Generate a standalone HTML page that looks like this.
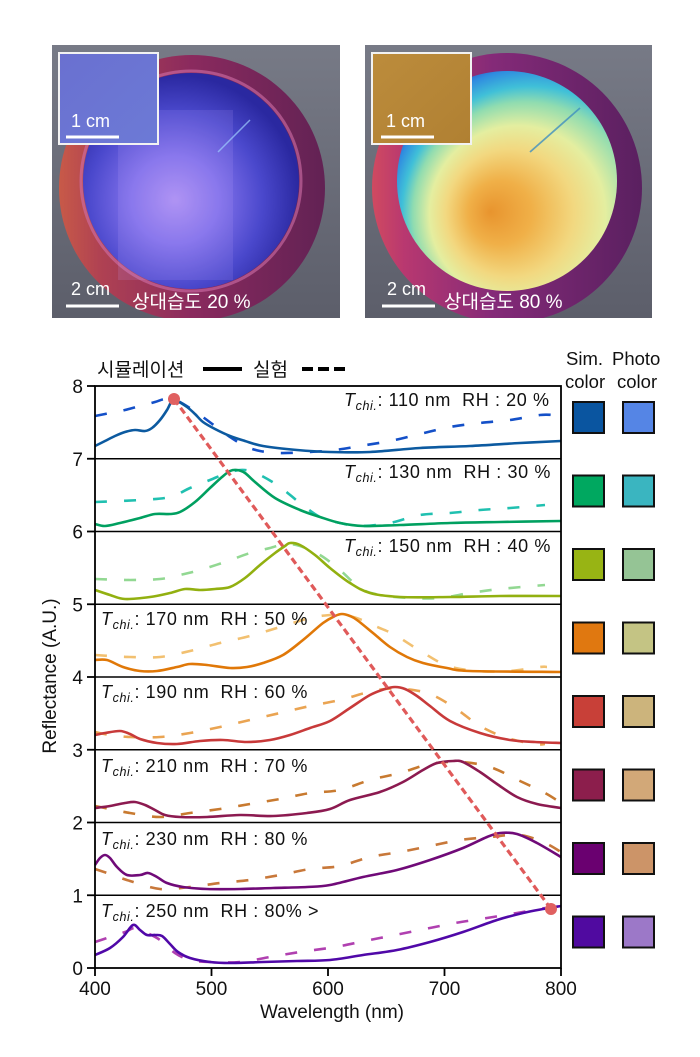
<!DOCTYPE html>
<html>
<head>
<meta charset="utf-8">
<style>
  html,body{margin:0;padding:0;background:#fff;}
  svg{display:block;}
</style>
</head>
<body>
<svg id="fig" width="700" height="1057" viewBox="0 0 700 1057" xmlns="http://www.w3.org/2000/svg">
  <defs>
    <clipPath id="c1"><rect x="52" y="45" width="288" height="273"/></clipPath>
    <clipPath id="c2"><rect x="365" y="45" width="287" height="273"/></clipPath>
    <linearGradient id="bg1" x1="0" y1="0" x2="0" y2="1">
      <stop offset="0" stop-color="#777a86"/>
      <stop offset="1" stop-color="#5c5e6a"/>
    </linearGradient>
    <linearGradient id="rim1" x1="0" y1="0" x2="1" y2="0">
      <stop offset="0" stop-color="#c85a48"/>
      <stop offset="0.15" stop-color="#b04252"/>
      <stop offset="0.5" stop-color="#8a2a5e"/>
      <stop offset="1" stop-color="#622254"/>
    </linearGradient>
    <radialGradient id="in1" cx="175" cy="200" r="125" gradientUnits="userSpaceOnUse">
      <stop offset="0" stop-color="#ac90f2"/>
      <stop offset="0.35" stop-color="#8070ea"/>
      <stop offset="0.7" stop-color="#4a48cc"/>
      <stop offset="1" stop-color="#2a28a0"/>
    </radialGradient>
    <linearGradient id="rim2" x1="0" y1="0" x2="1" y2="0">
      <stop offset="0" stop-color="#d04a60"/>
      <stop offset="0.12" stop-color="#b83870"/>
      <stop offset="0.45" stop-color="#842a78"/>
      <stop offset="1" stop-color="#5a2060"/>
    </linearGradient>
    <radialGradient id="in2" cx="540" cy="215" r="160" fx="490" fy="212" gradientUnits="userSpaceOnUse">
      <stop offset="0" stop-color="#e8942e"/>
      <stop offset="0.2" stop-color="#f0b048"/>
      <stop offset="0.4" stop-color="#f2d880"/>
      <stop offset="0.55" stop-color="#e4eea0"/>
      <stop offset="0.7" stop-color="#90dcb0"/>
      <stop offset="0.8" stop-color="#40c0d8"/>
      <stop offset="0.92" stop-color="#2f8ce0"/>
      <stop offset="1" stop-color="#3058c8"/>
    </radialGradient>
    <linearGradient id="ins1" x1="0" y1="0" x2="1" y2="1">
      <stop offset="0" stop-color="#6a70d0"/>
      <stop offset="1" stop-color="#6c7ad6"/>
    </linearGradient>
    <linearGradient id="ins2" x1="0" y1="0" x2="1" y2="1">
      <stop offset="0" stop-color="#bc8c3c"/>
      <stop offset="1" stop-color="#b08032"/>
    </linearGradient>
  </defs>

  <!-- PHOTO 1 -->
  <g clip-path="url(#c1)">
    <rect x="52" y="45" width="288" height="273" fill="url(#bg1)"/>
    <circle cx="192" cy="188" r="133" fill="url(#rim1)"/>
    <circle cx="191" cy="181" r="110" fill="none" stroke="#d070a8" stroke-width="3" opacity="0.6"/>
    <circle cx="191" cy="181" r="108" fill="url(#in1)"/>
    <rect x="118" y="110" width="115" height="170" fill="#c8a8ff" opacity="0.14"/>
    <line x1="218" y1="152" x2="250" y2="120" stroke="#a0d0ff" stroke-width="1.5" opacity="0.7"/>
    <rect x="59" y="53" width="99" height="91" fill="url(#ins1)" stroke="#f2f2f2" stroke-width="2"/>
  </g>
  <g fill="#fff" font-family="'Liberation Sans','Noto Sans CJK KR',sans-serif">
    <text x="71" y="127" font-size="18">1 cm</text>
    <rect x="66" y="135.5" width="53" height="3"/>
    <text x="71" y="295" font-size="18">2 cm</text>
    <rect x="66" y="304.5" width="53" height="3"/>
    <text x="132" y="308" font-size="19">상대습도 20 %</text>
  </g>

  <!-- PHOTO 2 -->
  <g clip-path="url(#c2)">
    <rect x="365" y="45" width="287" height="273" fill="url(#bg1)"/>
    <circle cx="507" cy="188" r="135" fill="url(#rim2)"/>
    <circle cx="507" cy="181" r="110" fill="url(#in2)"/>
    <line x1="530" y1="152" x2="580" y2="108" stroke="#4090c0" stroke-width="1.8" opacity="0.8"/>
    <rect x="372" y="53" width="99" height="91" fill="url(#ins2)" stroke="#f2f2f2" stroke-width="2"/>
  </g>
  <g fill="#fff" font-family="'Liberation Sans','Noto Sans CJK KR',sans-serif">
    <text x="386" y="127" font-size="18">1 cm</text>
    <rect x="381" y="135.5" width="53" height="3"/>
    <text x="387" y="295" font-size="18">2 cm</text>
    <rect x="382" y="304.5" width="53" height="3"/>
    <text x="444" y="308" font-size="19">상대습도 80 %</text>
  </g>

  <!-- LEGEND -->
  <g font-family="'Liberation Sans','Noto Sans CJK KR',sans-serif" font-size="19" fill="#111">
    <text x="97" y="376">시뮬레이션</text>
    <text x="253" y="376">실험</text>
  </g>
  <line x1="203" y1="369" x2="242" y2="369" stroke="#000" stroke-width="4"/>
  <line x1="302" y1="369" x2="350" y2="369" stroke="#000" stroke-width="4" stroke-dasharray="11 5"/>

  <!-- DATA CURVES -->
  <g fill="none" stroke-width="2.6" stroke-linejoin="round" stroke-linecap="butt">
    <!-- panel 1 -->
    <polyline class="s" stroke="#1450c8" stroke-dasharray="12 17" points="95,416 110,413 125,410 140,406 155,402 165,399 175,400 185,405 200,415 215,426 230,437 245,446 260,451 280,453 310,452 335,450 360,446 390,441 420,434 450,427 480,423 510,420 540,415 553,415"/>
    <polyline class="s" stroke="#0c5aa0" points="95,446 105,441 115,436 125,432 135,430 145,431 152,428 160,420 167,410 172,401 177,401 187,407 195,414 203,422 215,429 230,436 245,441 263,446 297,450 330,452 370,452 420,448 470,446 520,443 561,441"/>
    <!-- panel 2 -->
    <polyline class="s" stroke="#20c0b0" stroke-dasharray="12 17" points="95,502 140,500 170,497 190,488 210,480 230,472 245,470 260,475 280,487 300,503 320,517 340,523 360,526 390,523 420,515 450,513 480,510 510,508 545,505"/>
    <polyline class="s" stroke="#00a060" points="95,524 105,526 120,523 140,518 155,514 170,514 180,512 195,502 210,488 222,477 230,471 237,470 245,473 255,482 275,498 300,510 320,517 340,523 363,526 400,525 450,523 500,522 561,521"/>
    <!-- panel 3 -->
    <polyline class="s" stroke="#92d892" stroke-dasharray="12 17" points="95,579 130,580 160,579 180,575 200,570 225,562 250,553 270,548 285,544 300,546 320,555 340,570 360,588 380,595 410,598 440,598 470,593 500,589 545,585"/>
    <polyline class="s" stroke="#92b010" points="95,590 110,595 125,599 150,597 170,593 185,589 200,590 215,589 230,587 245,578 260,565 275,553 285,546 290,543 300,545 315,555 330,568 350,583 370,593 400,597 450,597 500,596 561,596"/>
    <!-- panel 4 -->
    <polyline class="s" stroke="#f2c070" stroke-dasharray="12 17" points="95,655 110,656 130,657 160,657 190,651 220,643 250,636 280,627 310,618 330,615 345,615 362,620 375,626 395,635 422,652 448,666 478,671 510,671 540,667 547,667"/>
    <polyline class="s" stroke="#e07808" points="95,660 107,660 123,667 140,671 157,671 177,667 190,664 207,665 230,668 247,667 263,663 283,655 303,640 323,623 335,616 342,614 350,616 357,620 373,633 390,647 407,657 423,663 447,668 470,671 561,672"/>
    <!-- panel 5 -->
    <polyline class="s" stroke="#eaa452" stroke-dasharray="12 17" points="95,732 110,735 130,737 160,737 190,733 220,727 250,720 280,713 310,706 340,700 365,693 385,689 405,689 430,694 455,708 480,726 507,738 535,744 545,744"/>
    <polyline class="s" stroke="#c83a3a" points="95,735 105,733 120,731 130,734 140,739 157,743 177,744 200,741 223,740 247,742 270,740 290,735 310,728 330,721 350,708 370,695 385,689 395,687 405,689 417,696 430,706 450,721 480,733 510,740 535,742 561,743"/>
    <!-- panel 6 -->
    <polyline class="s" stroke="#c87a30" stroke-dasharray="12 17" points="95,806 110,809 130,813 160,817 190,813 220,809 250,804 280,799 310,793 340,790 370,780 400,773 430,764 460,762 490,767 520,781 545,793 561,803"/>
    <polyline class="s" stroke="#8c1a50" points="95,808 110,806 125,803 135,802 145,805 155,810 165,815 180,817 207,817 240,815 273,816 307,813 330,809 350,800 380,792 403,782 423,770 437,763 453,761 463,762 480,772 497,784 517,797 537,804 561,808"/>
    <!-- panel 7 -->
    <polyline class="s" stroke="#c8783a" stroke-dasharray="12 17" points="95,869 110,874 130,881 160,889 190,887 220,883 250,880 280,875 310,869 340,866 370,857 400,852 430,846 460,840 490,837 520,835 545,843 561,852"/>
    <polyline class="s" stroke="#700a78" points="95,865 100,858 105,855 110,858 117,867 127,875 140,875 148,873 157,877 167,883 183,887 207,889 240,889 273,888 307,887 330,885 363,877 397,870 430,860 463,848 487,837 500,833 517,834 537,843 561,857"/>
    <!-- panel 8 -->
    <polyline class="s" stroke="#b040b0" stroke-dasharray="12 17" points="95,942 110,937 125,932 135,928 145,932 160,940 175,953 190,960 210,962 240,962 270,957 300,952 335,947 365,941 395,935 425,929 455,923 487,918 517,913 545,908"/>
    <polyline class="s" stroke="#5008a8" points="95,955 110,948 123,937 133,925 140,930 147,935 155,935 162,936 170,944 178,952 190,958 210,962 230,963 263,962 297,961 330,960 363,955 397,950 430,942 463,932 497,920 523,913 543,909 561,906"/>
  </g>

  <!-- FRAME / PANEL DIVIDERS -->
  <g stroke="#000" fill="none">
    <rect x="95" y="386" width="466" height="582" stroke-width="1.8"/>
    <line x1="95" y1="458.75" x2="561" y2="458.75" stroke-width="1.5"/>
    <line x1="95" y1="531.5" x2="561" y2="531.5" stroke-width="1.5"/>
    <line x1="95" y1="604.25" x2="561" y2="604.25" stroke-width="1.5"/>
    <line x1="95" y1="677" x2="561" y2="677" stroke-width="1.5"/>
    <line x1="95" y1="749.75" x2="561" y2="749.75" stroke-width="1.5"/>
    <line x1="95" y1="822.5" x2="561" y2="822.5" stroke-width="1.5"/>
    <line x1="95" y1="895.25" x2="561" y2="895.25" stroke-width="1.5"/>
    <g stroke-width="1.8">
      <line x1="87" y1="386" x2="95" y2="386"/>
      <line x1="87" y1="458.75" x2="95" y2="458.75"/>
      <line x1="87" y1="531.5" x2="95" y2="531.5"/>
      <line x1="87" y1="604.25" x2="95" y2="604.25"/>
      <line x1="87" y1="677" x2="95" y2="677"/>
      <line x1="87" y1="749.75" x2="95" y2="749.75"/>
      <line x1="87" y1="822.5" x2="95" y2="822.5"/>
      <line x1="87" y1="895.25" x2="95" y2="895.25"/>
      <line x1="87" y1="968" x2="95" y2="968"/>
      <line x1="95" y1="968" x2="95" y2="976"/>
      <line x1="211.5" y1="968" x2="211.5" y2="976"/>
      <line x1="328" y1="968" x2="328" y2="976"/>
      <line x1="444.5" y1="968" x2="444.5" y2="976"/>
      <line x1="561" y1="968" x2="561" y2="976"/>
    </g>
  </g>

  <!-- RED DIAGONAL -->
  <line x1="174" y1="399" x2="551" y2="909" stroke="#e05a5a" stroke-width="3.2" stroke-dasharray="7 4"/>
  <circle cx="174" cy="399" r="6" fill="#e06060"/>
  <circle cx="551" cy="909" r="6" fill="#e06060"/>

  <!-- PANEL LABELS -->
  <g font-family="'Liberation Sans',sans-serif" font-size="18" fill="#111" letter-spacing="0.6">
    <text x="344" y="406"><tspan font-style="italic">T</tspan><tspan font-style="italic" font-size="12.5" dy="4">chi.</tspan><tspan dy="-4">: 110 nm&#160;&#160;RH : 20 %</tspan></text>
    <text x="344" y="478"><tspan font-style="italic">T</tspan><tspan font-style="italic" font-size="12.5" dy="4">chi.</tspan><tspan dy="-4">: 130 nm&#160;&#160;RH : 30 %</tspan></text>
    <text x="344" y="552"><tspan font-style="italic">T</tspan><tspan font-style="italic" font-size="12.5" dy="4">chi.</tspan><tspan dy="-4">: 150 nm&#160;&#160;RH : 40 %</tspan></text>
    <text x="101" y="625"><tspan font-style="italic">T</tspan><tspan font-style="italic" font-size="12.5" dy="4">chi.</tspan><tspan dy="-4">: 170 nm&#160;&#160;RH : 50 %</tspan></text>
    <text x="101" y="698"><tspan font-style="italic">T</tspan><tspan font-style="italic" font-size="12.5" dy="4">chi.</tspan><tspan dy="-4">: 190 nm&#160;&#160;RH : 60 %</tspan></text>
    <text x="101" y="772"><tspan font-style="italic">T</tspan><tspan font-style="italic" font-size="12.5" dy="4">chi.</tspan><tspan dy="-4">: 210 nm&#160;&#160;RH : 70 %</tspan></text>
    <text x="101" y="845"><tspan font-style="italic">T</tspan><tspan font-style="italic" font-size="12.5" dy="4">chi.</tspan><tspan dy="-4">: 230 nm&#160;&#160;RH : 80 %</tspan></text>
    <text x="101" y="917"><tspan font-style="italic">T</tspan><tspan font-style="italic" font-size="12.5" dy="4">chi.</tspan><tspan dy="-4">: 250 nm&#160;&#160;RH : 80% &gt;</tspan></text>
  </g>

  <!-- AXIS TICK LABELS -->
  <g font-family="'Liberation Sans',sans-serif" font-size="19" fill="#111">
    <g text-anchor="end">
      <text x="83" y="393">8</text>
      <text x="83" y="465.75">7</text>
      <text x="83" y="538.5">6</text>
      <text x="83" y="611.25">5</text>
      <text x="83" y="684">4</text>
      <text x="83" y="756.75">3</text>
      <text x="83" y="829.5">2</text>
      <text x="83" y="902.25">1</text>
      <text x="83" y="975">0</text>
    </g>
    <g text-anchor="middle">
      <text x="95" y="995">400</text>
      <text x="211.5" y="995">500</text>
      <text x="328" y="995">600</text>
      <text x="444.5" y="995">700</text>
      <text x="561" y="995">800</text>
      <text x="332" y="1018">Wavelength (nm)</text>
      <text x="0" y="0" transform="translate(56,676) rotate(-90)">Reflectance (A.U.)</text>
    </g>
  </g>

  <!-- SWATCH HEADERS -->
  <g font-family="'Liberation Sans',sans-serif" font-size="18.5" fill="#111">
    <text x="566" y="365">Sim.</text>
    <text x="612" y="365">Photo</text>
    <text x="565" y="388">color</text>
    <text x="617" y="388">color</text>
  </g>

  <!-- SWATCHES -->
  <g stroke="#111" stroke-width="2">
    <rect x="573" y="402" width="31" height="31" fill="#0a55a0"/>
    <rect x="623" y="402" width="31" height="31" fill="#5585e5"/>
    <rect x="573" y="475.5" width="31" height="31" fill="#00a860"/>
    <rect x="623" y="475.5" width="31" height="31" fill="#3ab5c0"/>
    <rect x="573" y="549" width="31" height="31" fill="#98b414"/>
    <rect x="623" y="549" width="31" height="31" fill="#95c495"/>
    <rect x="573" y="622.5" width="31" height="31" fill="#e07810"/>
    <rect x="623" y="622.5" width="31" height="31" fill="#c4c484"/>
    <rect x="573" y="696" width="31" height="31" fill="#c84038"/>
    <rect x="623" y="696" width="31" height="31" fill="#ccb47c"/>
    <rect x="573" y="769.5" width="31" height="31" fill="#8c1e4c"/>
    <rect x="623" y="769.5" width="31" height="31" fill="#d2a878"/>
    <rect x="573" y="843" width="31" height="31" fill="#6a0070"/>
    <rect x="623" y="843" width="31" height="31" fill="#cc9468"/>
    <rect x="573" y="916.5" width="31" height="31" fill="#500aa0"/>
    <rect x="623" y="916.5" width="31" height="31" fill="#9c78c8"/>
  </g>
</svg>
<script>
(function(){
  var NS='http://www.w3.org/2000/svg';
  var pls=document.querySelectorAll('polyline.s');
  for(var k=0;k<pls.length;k++){
    var pl=pls[k];
    var raw=pl.getAttribute('points').trim().split(/\s+/);
    var pts=[];
    for(var j=0;j<raw.length;j++){var a=raw[j].split(',');pts.push([+a[0],+a[1]]);}
    var d='M'+pts[0][0]+','+pts[0][1];
    for(var i=0;i<pts.length-1;i++){
      var p0=pts[i-1]||pts[i],p1=pts[i],p2=pts[i+1],p3=pts[i+2]||pts[i+1];
      var c1x=p1[0]+(p2[0]-p0[0])/6,c1y=p1[1]+(p2[1]-p0[1])/6;
      var c2x=p2[0]-(p3[0]-p1[0])/6,c2y=p2[1]-(p3[1]-p1[1])/6;
      d+=' C'+c1x.toFixed(2)+','+c1y.toFixed(2)+' '+c2x.toFixed(2)+','+c2y.toFixed(2)+' '+p2[0]+','+p2[1];
    }
    var path=document.createElementNS(NS,'path');
    path.setAttribute('d',d);
    path.setAttribute('stroke',pl.getAttribute('stroke'));
    if(pl.getAttribute('stroke-dasharray'))path.setAttribute('stroke-dasharray',pl.getAttribute('stroke-dasharray'));
    pl.parentNode.replaceChild(path,pl);
  }
})();
</script>
</body>
</html>
